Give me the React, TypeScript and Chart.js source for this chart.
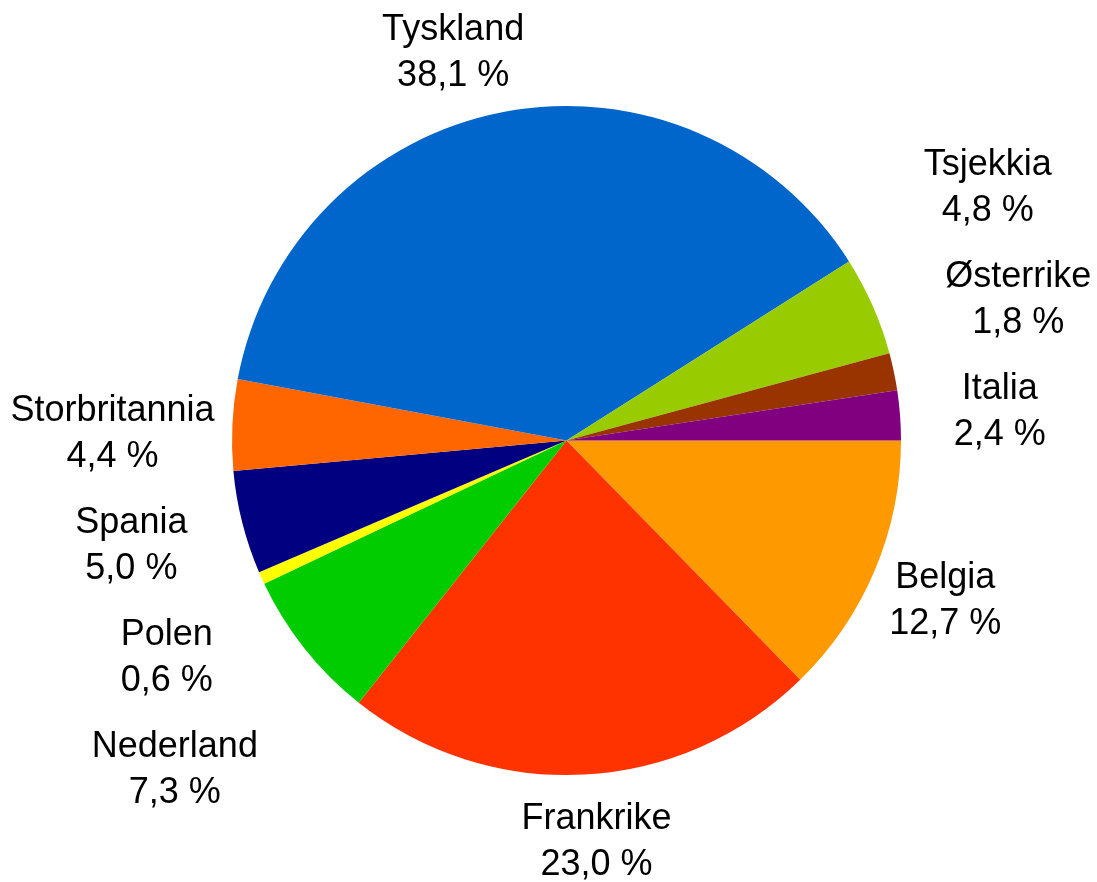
import React, { useEffect, useRef } from "react";
import { Chart, registerables } from "chart.js";

Chart.register(...registerables);

// Data (clockwise from 3 o'clock)
const countries = [
  "Belgia",
  "Frankrike",
  "Nederland",
  "Polen",
  "Spania",
  "Storbritannia",
  "Tyskland",
  "Tsjekkia",
  "Østerrike",
  "Italia",
];
const shares = [12.7, 23.0, 7.3, 0.6, 5.0, 4.4, 38.1, 4.8, 1.8, 2.4];
const sliceColors = [
  "#FF9900",
  "#FF3300",
  "#00CC00",
  "#FFFF00",
  "#000080",
  "#FF6600",
  "#0066CC",
  "#99CC00",
  "#993300",
  "#800080",
];

// Label layout tweaks (pixel nudges from the radial anchor)
const labelNudges: [number, number][] = [
  [6, 1],
  [9, -5],
  [-75, 75],
  [-31, 49],
  [-43, 4],
  [-50, 10],
  [-37, 7],
  [51, -92],
  [56, -60],
  [30, 0],
];

const FONT_SIZE = 36;
const LINE_GAP = 46;
const LABEL_EXT = 70;

const fmt = (v: number) => v.toFixed(1).replace(".", ",") + " %";

const pieLabels = {
  id: "pieLabels",
  afterDatasetsDraw(chart: any) {
    const ctx = chart.ctx as CanvasRenderingContext2D;
    const meta = chart.getDatasetMeta(0);
    ctx.save();
    ctx.font = `${FONT_SIZE}px "Liberation Sans", Arial, sans-serif`;
    ctx.fillStyle = "#000000";
    ctx.textAlign = "center";
    ctx.textBaseline = "alphabetic";
    const capH = FONT_SIZE * 0.69;
    meta.data.forEach((arc: any, i: number) => {
      const p = arc.getProps(["x", "y", "startAngle", "endAngle", "outerRadius"], true);
      const mid = (p.startAngle + p.endAngle) / 2;
      const d = p.outerRadius + LABEL_EXT;
      const cx = p.x + d * Math.cos(mid) + labelNudges[i][0];
      const cy = p.y + d * Math.sin(mid) + labelNudges[i][1];
      ctx.fillText(countries[i], cx, cy - LINE_GAP / 2 + capH / 2);
      ctx.fillText(fmt(shares[i]), cx, cy + LINE_GAP / 2 + capH / 2);
    });
    ctx.restore();
  },
};

export default function App() {
  const canvasRef = useRef<HTMLCanvasElement | null>(null);

  useEffect(() => {
    document.body.style.margin = "0";
    const canvas = canvasRef.current;
    if (!canvas) return;
    const chart = new Chart(canvas, {
      type: "pie",
      data: {
        labels: countries,
        datasets: [
          {
            data: shares,
            backgroundColor: sliceColors,
            borderWidth: 0,
            hoverOffset: 0,
          },
        ],
      },
      options: {
        responsive: false,
        animation: false,
        devicePixelRatio: 1,
        rotation: 90,
        events: [],
        layout: {
          padding: { left: 232, right: 196, top: 106, bottom: 107 },
        },
        plugins: {
          legend: { display: false },
          tooltip: { enabled: false },
        },
      },
      plugins: [pieLabels],
    });
    return () => chart.destroy();
  }, []);

  return (
    <div style={{ position: "fixed", left: 0, top: 0, width: 1097, height: 882, background: "#ffffff" }}>
      <canvas ref={canvasRef} width={1097} height={882} />
    </div>
  );
}
